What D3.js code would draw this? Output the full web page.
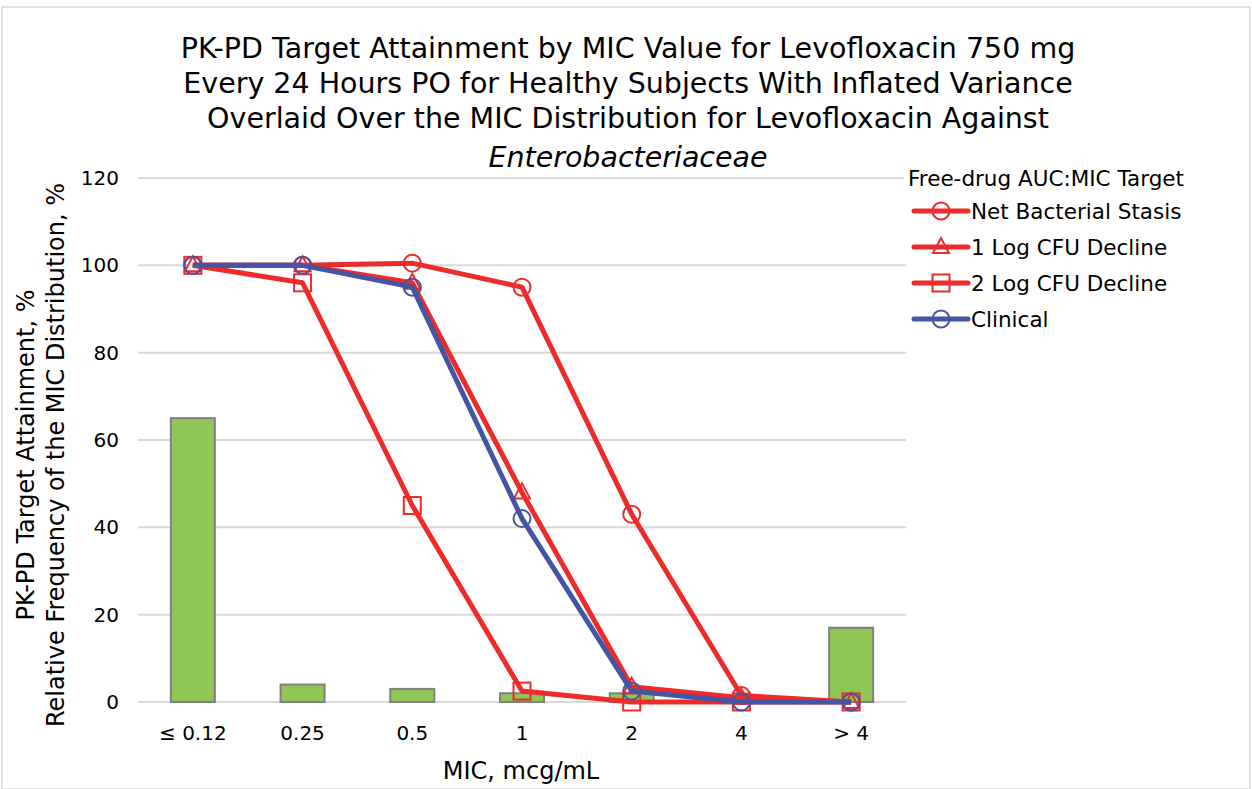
<!DOCTYPE html>
<html>
<head>
<meta charset="utf-8">
<script src="https://cdn.jsdelivr.net/npm/d3@7"></script>
<style>
  body { margin: 0; background: #fff; }
  svg { display: block; }
</style>
</head>
<body>
<div id="chart"></div>
<script>
var categories = ["\u2264 0.12", "0.25", "0.5", "1", "2", "4", "> 4"];
var micFrequency = [65, 4, 3, 2, 2, 0, 17];
var netStasis = [100, 100, 100.5, 95, 43, 1.5, 0];
var oneLogDecline = [100, 100, 96, 48, 3.5, 1, 0];
var twoLogDecline = [100, 96, 45, 2.5, 0, 0, 0];
var clinical = [100, 100, 95, 42, 2.5, 0, 0];
var yTicks = [0, 20, 40, 60, 80, 100, 120];

var series = [
  {name: "Net Bacterial Stasis", values: netStasis, color: "#ee2b2b", marker: "circle"},
  {name: "1 Log CFU Decline", values: oneLogDecline, color: "#ee2b2b", marker: "triangle"},
  {name: "2 Log CFU Decline", values: twoLogDecline, color: "#ee2b2b", marker: "square"},
  {name: "Clinical", values: clinical, color: "#4455a4", marker: "circle"}
];

var width = 1252, height = 789;
var font = "'DejaVu Sans', sans-serif";

var svg = d3.select("#chart").append("svg")
    .attr("width", width)
    .attr("height", height)
    .attr("font-family", font);

svg.append("rect")
    .attr("x", 2).attr("y", 7)
    .attr("width", width - 4).attr("height", height - 7)
    .attr("fill", "#fff")
    .attr("stroke", "#d9d9d9")
    .attr("stroke-width", 1.5);

var x = d3.scaleBand()
    .domain(categories)
    .range([138, 906]);

var y = d3.scaleLinear()
    .domain([0, 120])
    .range([702, 178]);

// gridlines
svg.append("g").selectAll("line")
  .data(yTicks)
  .enter().append("line")
    .attr("x1", 138).attr("x2", 906)
    .attr("y1", function(d) { return y(d); })
    .attr("y2", function(d) { return y(d); })
    .attr("stroke", "#d9d9d9")
    .attr("stroke-width", 2);

// y tick labels
svg.append("g").selectAll("text")
  .data(yTicks)
  .enter().append("text")
    .attr("x", 119)
    .attr("y", function(d) { return y(d); })
    .attr("dy", "0.35em")
    .attr("text-anchor", "end")
    .attr("font-size", 20)
    .attr("fill", "#000")
    .text(function(d) { return d; });

// x tick labels
svg.append("g").selectAll("text")
  .data(categories)
  .enter().append("text")
    .attr("x", function(d) { return x(d) + x.bandwidth() / 2; })
    .attr("y", 740)
    .attr("text-anchor", "middle")
    .attr("font-size", 20)
    .attr("fill", "#000")
    .text(function(d) { return d; });

// bars
var barW = 44;
svg.append("g").selectAll("rect")
  .data(micFrequency)
  .enter().append("rect")
    .attr("x", function(d, i) { return x(categories[i]) + x.bandwidth() / 2 - barW / 2; })
    .attr("y", function(d) { return y(d); })
    .attr("width", barW)
    .attr("height", function(d) { return y(0) - y(d); })
    .attr("fill", "#8fc656")
    .attr("stroke", "#808080")
    .attr("stroke-width", 2);

var line = d3.line()
    .x(function(d, i) { return x(categories[i]) + x.bandwidth() / 2; })
    .y(function(d) { return y(d); });

function drawMarker(g, type, cx, cy, color) {
  if (type === "circle") {
    g.append("circle").attr("cx", cx).attr("cy", cy).attr("r", 8.5)
      .attr("fill", "none").attr("stroke", color).attr("stroke-width", 2);
  } else if (type === "square") {
    g.append("rect").attr("x", cx - 8.5).attr("y", cy - 8.5)
      .attr("width", 17).attr("height", 17)
      .attr("fill", "none").attr("stroke", color).attr("stroke-width", 2);
  } else {
    g.append("path")
      .attr("d", "M" + cx + "," + (cy - 9) + "L" + (cx + 8) + "," + (cy + 6) + "L" + (cx - 8) + "," + (cy + 6) + "Z")
      .attr("fill", "none").attr("stroke", color).attr("stroke-width", 2);
  }
}

series.forEach(function(s) {
  var g = svg.append("g");
  g.append("path")
    .datum(s.values)
    .attr("d", line)
    .attr("fill", "none")
    .attr("stroke", s.color)
    .attr("stroke-width", 5)
    .attr("stroke-linejoin", "round");
  s.values.forEach(function(v, i) {
    drawMarker(g, s.marker, x(categories[i]) + x.bandwidth() / 2, y(v), s.color);
  });
});

// title
var titleLines = [
  "PK-PD Target Attainment by MIC Value for Levofloxacin 750 mg",
  "Every 24 Hours PO for Healthy Subjects With Inflated Variance",
  "Overlaid Over the MIC Distribution for Levofloxacin Against"
];
var title = svg.append("g").attr("font-size", 28.5).attr("text-anchor", "middle").attr("fill", "#000");
titleLines.forEach(function(t, i) {
  title.append("text").attr("x", 628).attr("y", 58 + i * 35).text(t);
});
title.append("text").attr("x", 628).attr("y", 167)
  .attr("font-style", "italic").text("Enterobacteriaceae");

// y axis title
var yt = svg.append("g")
    .attr("transform", "translate(0,455) rotate(-90)")
    .attr("font-size", 24)
    .attr("text-anchor", "middle")
    .attr("fill", "#000");
yt.append("text").attr("x", 0).attr("y", 34).text("PK-PD Target Attainment, %");
yt.append("text").attr("x", 0).attr("y", 64).text("Relative Frequency of the MIC Distribution, %");

// x axis title
svg.append("text")
    .attr("x", 521).attr("y", 779)
    .attr("text-anchor", "middle")
    .attr("font-size", 24)
    .attr("fill", "#000")
    .text("MIC, mcg/mL");

// legend
var legend = svg.append("g").attr("font-size", 21.5).attr("fill", "#000");
legend.append("rect").attr("x", 904).attr("y", 164).attr("width", 300).attr("height", 28).attr("fill", "#fff");
legend.append("text").attr("x", 908).attr("y", 186).text("Free-drug AUC:MIC Target");
series.forEach(function(s, i) {
  var ly = 211 + i * 36;
  var g = legend.append("g");
  g.append("line").attr("x1", 914).attr("x2", 968).attr("y1", ly).attr("y2", ly)
    .attr("stroke", s.color).attr("stroke-width", 5).attr("stroke-linecap", "round");
  drawMarker(g, s.marker, 941, ly, s.color);
  g.append("text").attr("x", 971).attr("y", ly).attr("dy", "0.35em").text(s.name);
});
</script>
</body>
</html>
